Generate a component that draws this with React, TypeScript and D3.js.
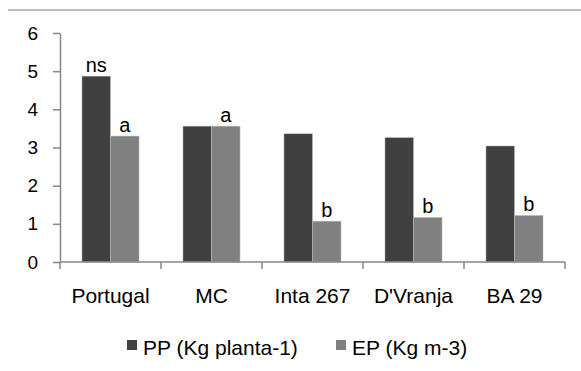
import React, { useRef, useEffect } from "react";
import * as d3 from "d3";

const categories = ["Portugal", "MC", "Inta 267", "D'Vranja", "BA 29"];
const seriesNames = ["PP (Kg planta-1)", "EP (Kg m-3)"];
const ppValues = [4.87, 3.56, 3.36, 3.26, 3.04];
const epValues = [3.3, 3.56, 1.07, 1.17, 1.22];
const ppLabels = ["ns", "", "", "", ""];
const epLabels = ["a", "a", "b", "b", "b"];
const yTicks = [0, 1, 2, 3, 4, 5, 6];
const colors = ["#404040", "#808080"];

export default function App() {
  const svgRef = useRef<SVGSVGElement>(null);

  useEffect(() => {
    const svg = d3.select(svgRef.current);
    svg.selectAll("*").remove();
    const font = "'Liberation Sans', Arial, sans-serif";
    const left = 60,
      right = 565,
      top = 33,
      bottom = 262;

    // frame line at top
    svg.append("line")
      .attr("x1", 8)
      .attr("x2", 581)
      .attr("y1", 10)
      .attr("y2", 10)
      .attr("stroke", "#a6a6a6")
      .attr("stroke-width", 1.5);

    const x = d3.scaleBand().domain(categories).range([left, right]);
    const x1 = d3
      .scaleBand()
      .domain(seriesNames)
      .range([0, x.bandwidth()])
      .paddingOuter(0.77);
    const y = d3.scaleLinear().domain([0, 6]).range([bottom, top]);

    const rows = categories.map((c, i) => ({
      cat: c,
      vals: [
        { s: seriesNames[0], v: ppValues[i], label: ppLabels[i], color: colors[0] },
        { s: seriesNames[1], v: epValues[i], label: epLabels[i], color: colors[1] },
      ],
    }));

    const g = svg
      .selectAll("g.cat")
      .data(rows)
      .enter()
      .append("g")
      .attr("transform", (d) => `translate(${x(d.cat)},0)`);

    g.selectAll("rect")
      .data((d) => d.vals)
      .enter()
      .append("rect")
      .attr("x", (d) => x1(d.s)!)
      .attr("width", x1.bandwidth())
      .attr("y", (d) => y(d.v))
      .attr("height", (d) => bottom - y(d.v))
      .attr("fill", (d) => d.color)
      .attr("stroke", "#bfbfbf")
      .attr("stroke-width", 0.5);

    g.selectAll("text")
      .data((d) => d.vals.filter((v) => v.label))
      .enter()
      .append("text")
      .attr("x", (d) => x1(d.s)! + x1.bandwidth() / 2)
      .attr("y", (d) => y(d.v) - 4)
      .attr("text-anchor", "middle")
      .attr("font-family", font)
      .attr("font-size", 20)
      .attr("fill", "#000")
      .text((d) => d.label);

    // y axis
    const yAxis = svg
      .append("g")
      .attr("transform", `translate(${left},0)`)
      .call(
        d3
          .axisLeft(y)
          .tickValues(yTicks)
          .tickFormat(d3.format("d"))
          .tickSize(7)
          .tickPadding(15)
          .tickSizeOuter(0)
      );
    yAxis.select(".domain").attr("stroke", "#868686").attr("stroke-width", 1.5);
    yAxis.selectAll(".tick line").attr("stroke", "#868686").attr("stroke-width", 1.5);
    yAxis
      .selectAll(".tick text")
      .attr("font-family", font)
      .attr("font-size", 19)
      .attr("fill", "#000");

    // x axis: ticks at band boundaries
    const xAxis = svg.append("g").attr("transform", `translate(0,${bottom})`);
    xAxis
      .append("line")
      .attr("x1", left)
      .attr("x2", right)
      .attr("stroke", "#868686")
      .attr("stroke-width", 1.5);
    const bounds = categories.map((c) => x(c)!).concat([right]);
    xAxis
      .selectAll("line.tk")
      .data(bounds)
      .enter()
      .append("line")
      .attr("class", "tk")
      .attr("x1", (d) => d)
      .attr("x2", (d) => d)
      .attr("y1", 0)
      .attr("y2", 7)
      .attr("stroke", "#868686")
      .attr("stroke-width", 1.5);
    xAxis
      .selectAll("text")
      .data(categories)
      .enter()
      .append("text")
      .attr("x", (d) => x(d)! + x.bandwidth() / 2)
      .attr("y", 41)
      .attr("text-anchor", "middle")
      .attr("font-family", font)
      .attr("font-size", 21)
      .attr("fill", "#000")
      .text((d) => d);

    // legend
    const legendX = [127, 336];
    const legend = svg
      .selectAll("g.legend")
      .data(seriesNames)
      .enter()
      .append("g")
      .attr("transform", (d, i) => `translate(${legendX[i]},340)`);
    legend
      .append("rect")
      .attr("width", 10)
      .attr("height", 10)
      .attr("fill", (d, i) => colors[i]);
    legend
      .append("text")
      .attr("x", 16)
      .attr("y", 15)
      .attr("font-family", font)
      .attr("font-size", 21)
      .attr("fill", "#000")
      .text((d) => d);
  }, []);

  return (
    <svg
      ref={svgRef}
      width={581}
      height={371}
      style={{ position: "absolute", left: 0, top: 0, background: "#fff" }}
    ></svg>
  );
}
